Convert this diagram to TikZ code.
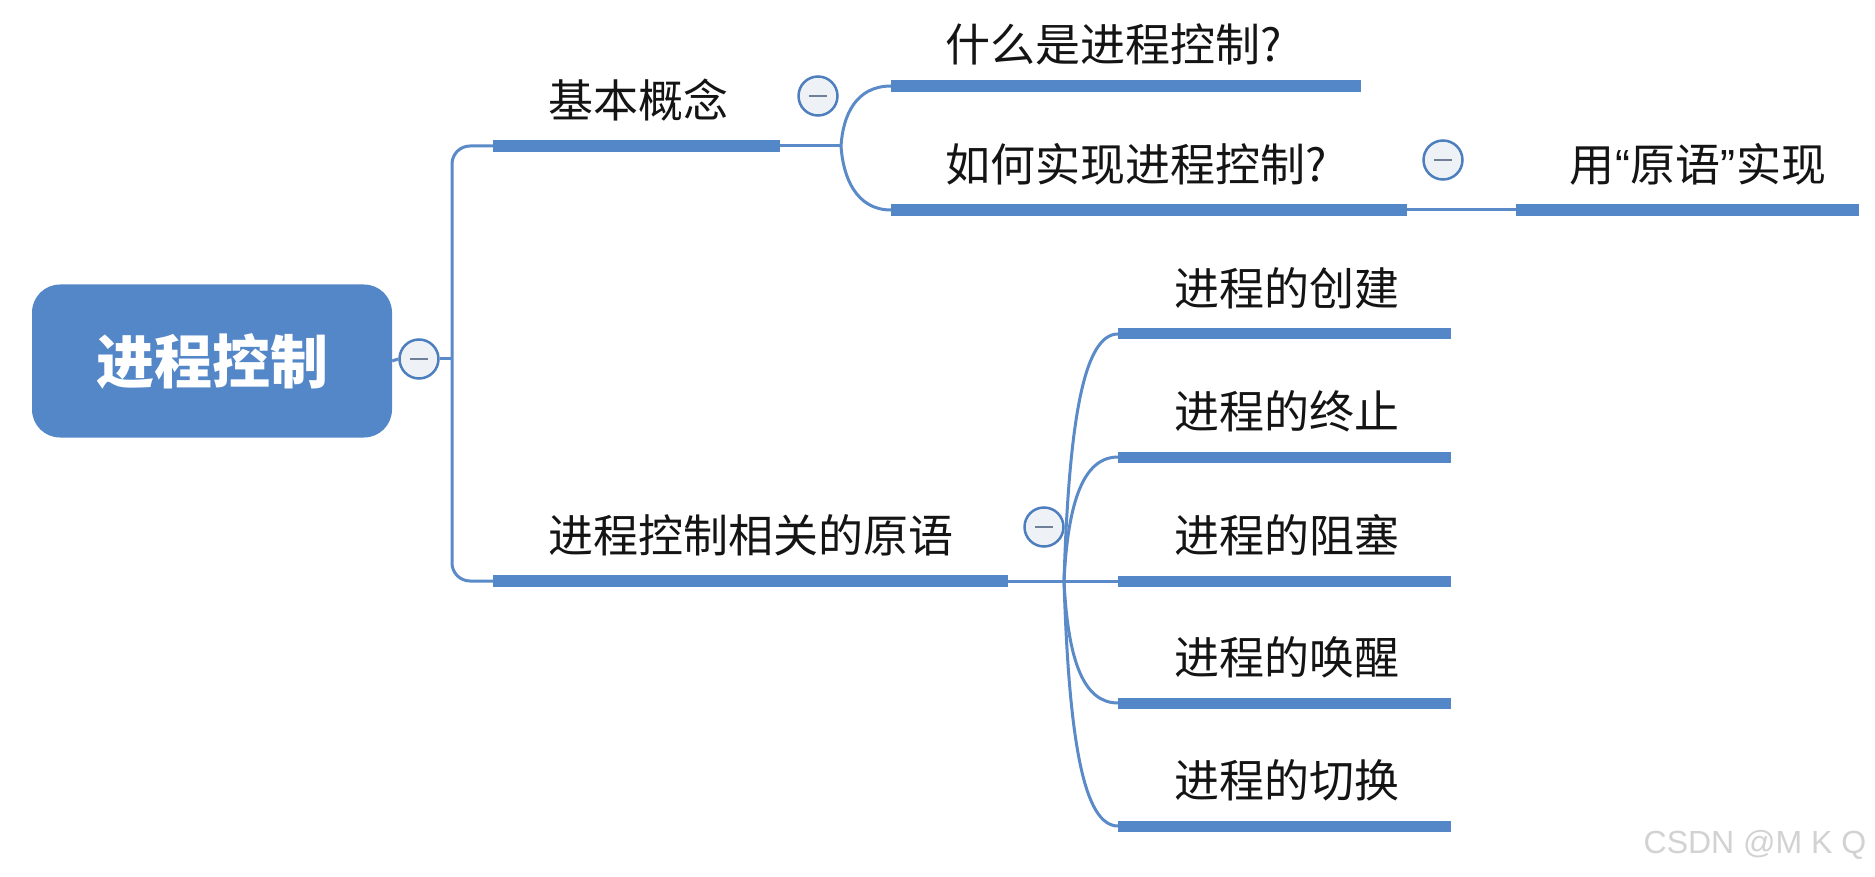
\documentclass[tikz,border=0pt]{standalone}
\usepackage{fontspec}
\newfontfamily\cjk{Noto Sans CJK SC}
\newfontfamily\wm{Liberation Sans}
\definecolor{mblue}{HTML}{5487C7}
\definecolor{lblue}{HTML}{5A8BC8}
\definecolor{tfill}{HTML}{EEF1F6}
\definecolor{tline}{HTML}{4D7FBF}
\definecolor{tminus}{HTML}{6F7F96}
\definecolor{wmgray}{HTML}{D2D2D2}
\begin{document}
\begin{tikzpicture}[x=1pt,y=-1pt,
  bar/.style={fill=mblue, draw=none, inner sep=0pt, minimum height=12pt, anchor=west},
  cbar/.style={bar, minimum height=11pt, minimum width=333pt},
  topic/.style={font=\cjk\fontsize{45}{54}\selectfont, anchor=west, inner sep=0pt, text=black!92},
  conn/.style={draw=lblue, line width=3pt},
  tog/.style={circle, draw=tline, line width=2.5pt, fill=tfill, minimum size=39pt, inner sep=0pt,
    path picture={\draw[line width=2.6pt, color=tminus] ([xshift=-9pt]path picture bounding box.center) -- ([xshift=9pt]path picture bounding box.center);}},
  rootbox/.style={fill=mblue, rounded corners=28pt, minimum width=360pt, minimum height=153pt, inner sep=0pt,
    text=white, font=\cjk\bfseries\fontsize{58}{68}\selectfont}
]
\fill[white] (0,0) rectangle (1875,877);
\useasboundingbox (0,0) rectangle (1875,877);

% root
\node[rootbox] (root) at (212,361) {进程控制};
\node[tog] (rt) at (419,359) {};
\coordinate (tr) at (452,359);

% level 1
\node[bar, minimum width=287pt] (b1) at (493,146) {};
\node[topic] (t1) at (548,100) {基本概念};
\node[tog] (c1) at (818,96) {};
\coordinate (f1) at (841,146);

\node[bar, minimum width=515pt] (b2) at (493,581) {};
\node[topic] (t2) at (548,535) {进程控制相关的原语};
\node[tog] (c2) at (1044,527) {};
\coordinate (f2) at (1064,581);

% level 2 under 基本概念
\node[bar, minimum width=470pt] (b11) at (891,86) {};
\node[topic] (t11) at (945,44) {什么是进程控制?};
\node[bar, minimum width=516pt] (b12) at (891,210) {};
\node[topic] (t12) at (945,164) {如何实现进程控制?};
\node[tog] (c12) at (1443,160) {};
\node[bar, minimum width=343pt] (b121) at (1516,210) {};
\node[topic] (t121) at (1569,164) {用{\wm\kern1pt“}原语{\wm”\kern1pt}实现};

% level 2 under 原语
\node[cbar] (k1) at (1118,334) {};
\node[topic] (s1) at (1174,288) {进程的创建};
\node[cbar] (k2) at (1118,457) {};
\node[topic] (s2) at (1174,411) {进程的终止};
\node[cbar] (k3) at (1118,581) {};
\node[topic] (s3) at (1174,535) {进程的阻塞};
\node[cbar] (k4) at (1118,703) {};
\node[topic] (s4) at (1174,657) {进程的唤醒};
\node[cbar] (k5) at (1118,826) {};
\node[topic] (s5) at (1174,780) {进程的切换};

% connectors
\draw[conn] (root.east) -- (rt.west);
\draw[conn] (rt.east) -- (tr);
\draw[conn, rounded corners=18pt] (b1.west) -| (tr) |- (b2.west);

\draw[conn] (b1.east) -- (f1);
\draw[conn] (f1) .. controls (843,115) and (856,86) .. (b11.west);
\draw[conn] (f1) .. controls (843,177) and (856,210) .. (b12.west);
\draw[conn] (b12.east) -- (b121.west);

\draw[conn] (b2.east) -- (k3.west);
\draw[conn] (f2) .. controls (1069,420) and (1084,334) .. (k1.west);
\draw[conn] (f2) .. controls (1068,500) and (1084,457) .. (k2.west);
\draw[conn] (f2) .. controls (1068,662) and (1084,703) .. (k4.west);
\draw[conn] (f2) .. controls (1069,742) and (1084,826) .. (k5.west);

% watermark
\node[font=\wm\fontsize{32}{38}\selectfont, text=wmgray, inner sep=0pt] (wmk) at (1755,845) {CSDN @M K Q};
\end{tikzpicture}
\end{document}
